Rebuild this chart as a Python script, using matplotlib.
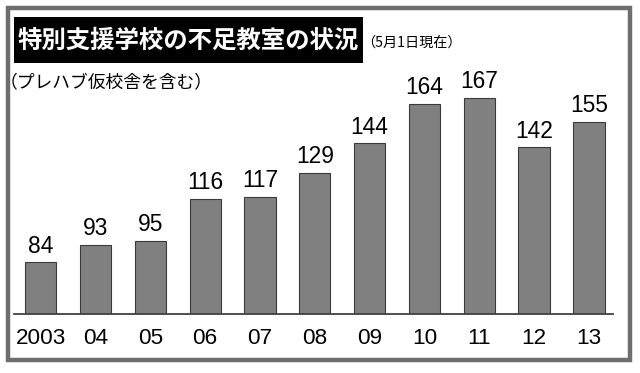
import matplotlib.pyplot as plt
from matplotlib.patches import Rectangle

# data
years = ["2003", "04", "05", "06", "07", "08", "09", "10", "11", "12", "13"]
rooms = [84, 93, 95, 116, 117, 129, 144, 164, 167, 142, 155]

title = "特別支援学校の不足教室の状況"
note_date = "（5月1日現在）"
note_sub = "（プレハブ仮校舎を含む）"

jp = ["Noto Sans CJK JP", "DejaVu Sans"]
num = ["Liberation Sans", "DejaVu Sans"]

fig = plt.figure(figsize=(6.4, 3.73), dpi=100)
W, H = 640, 373

def fx(px):
    return px / W

def fy(py):
    return 1 - py / H

# outer frame
fig.patches.append(Rectangle((fx(8), fy(360)), fx(622), 352 / H, transform=fig.transFigure,
                             fill=False, edgecolor="#6e6e6e", linewidth=3.2))

# title box
fig.patches.append(Rectangle((fx(14), fy(63)), fx(349), 46 / H, transform=fig.transFigure,
                             facecolor="black", edgecolor="none"))
fig.text(fx(188), fy(41), title, color="white", fontsize=17.6, fontweight="bold",
         family=jp, ha="center", va="center")
fig.text(fx(361), fy(43), note_date, fontsize=10.2, family=jp, ha="left", va="center")
fig.text(fx(0), fy(82), note_sub, fontsize=12.8, family=jp, ha="left", va="center")

ax = fig.add_axes([fx(14), fy(314), fx(599), 234 / H])
x = list(range(len(years)))
ax.bar(x, rooms, width=0.57, color="#808080", edgecolor="#3a3a3a", linewidth=0.8)
ax.set_ylim(58, 176)
ax.set_xlim(-0.487, 10.44)

for xi, v in zip(x, rooms):
    ax.annotate(str(v), (xi, v), xytext=(0, 7), textcoords="offset points",
                ha="center", va="baseline", fontsize=16.4, family=num)

ax.set_xticks(x)
ax.set_xticklabels(years, fontsize=16.2, family=num)
ax.tick_params(axis="x", length=0, pad=10)
ax.set_yticks([])
for s in ["top", "left", "right"]:
    ax.spines[s].set_visible(False)
ax.spines["bottom"].set_color("#404040")
ax.spines["bottom"].set_linewidth(1.3)
ax.patch.set_alpha(0)

fig.savefig("out.png", dpi=100)
